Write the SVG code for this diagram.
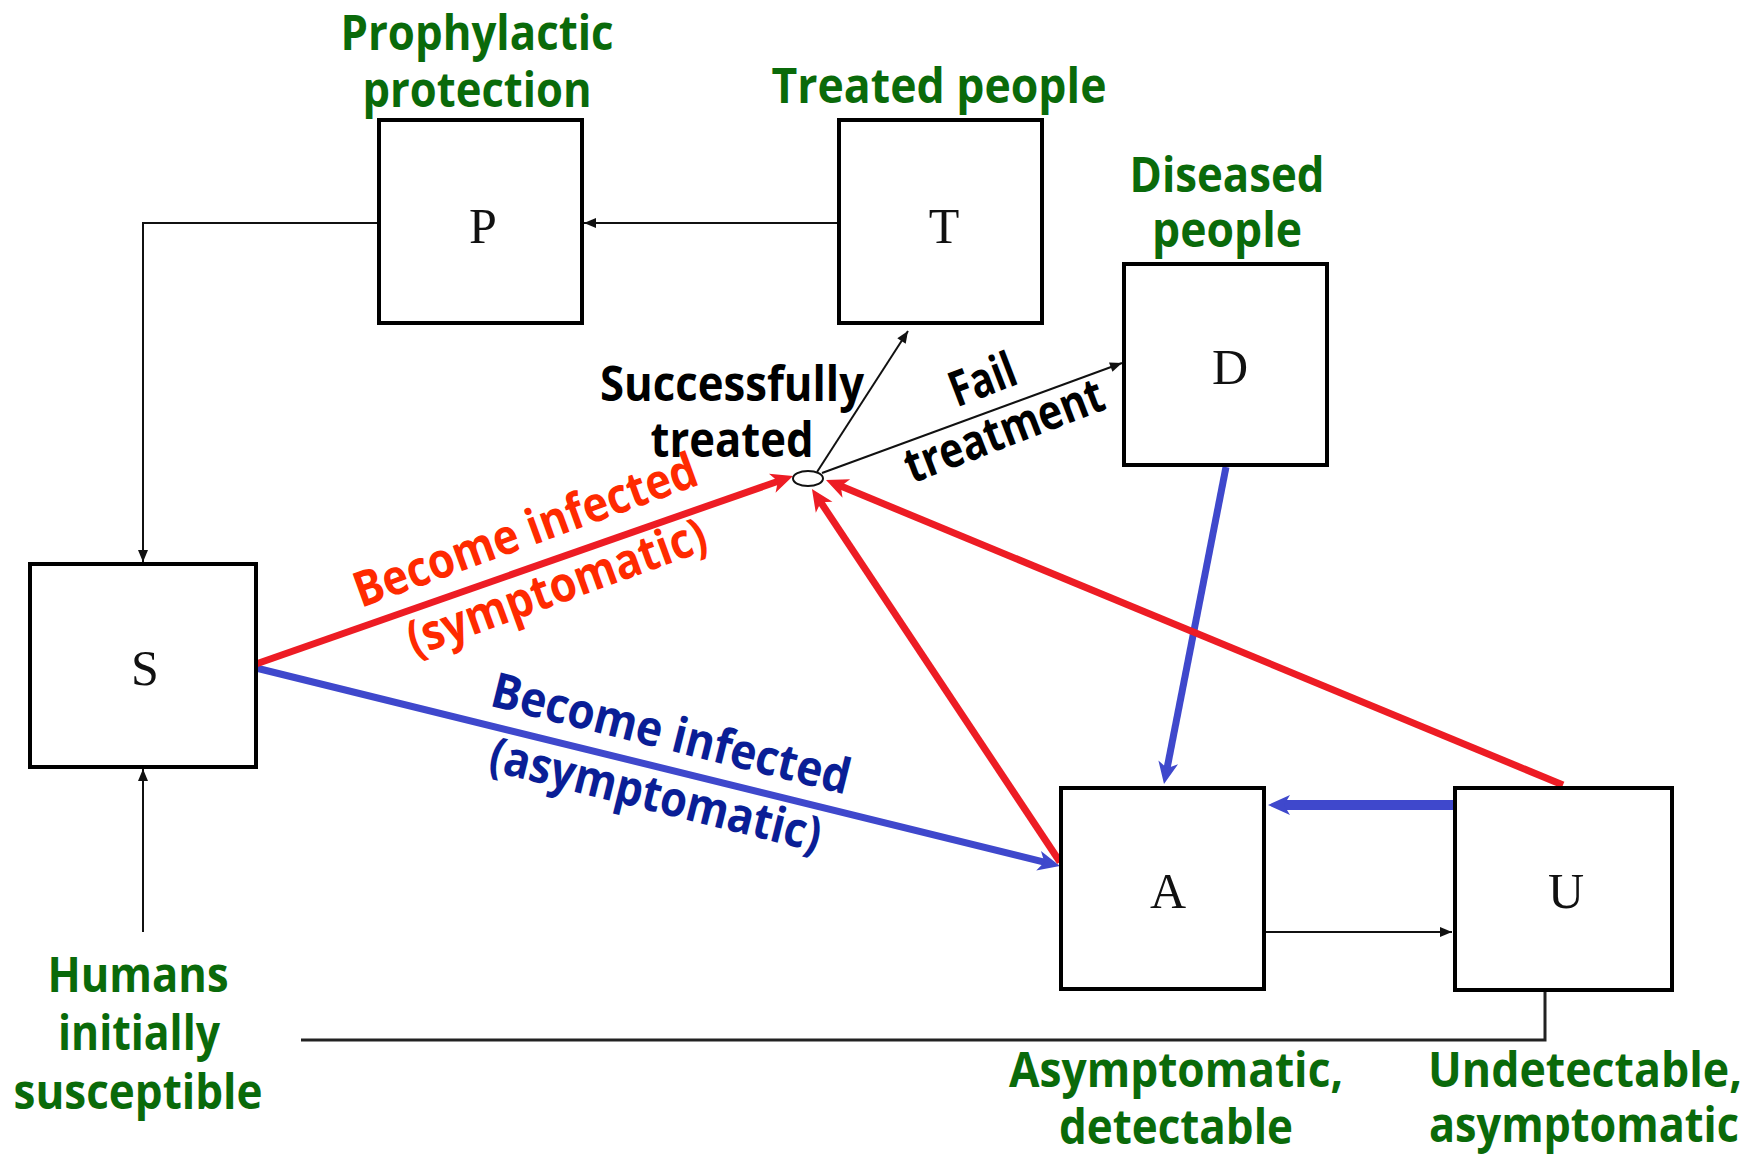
<svg xmlns="http://www.w3.org/2000/svg" width="1748" height="1154" viewBox="0 0 1748 1154">
<style>
.box{fill:#fff;stroke:#000;stroke-width:4}
.let{font-family:"Liberation Serif","Times New Roman",serif;font-size:50px;text-anchor:middle;fill:#111}
.lbl{font-family:"Open Sans",Lato,sans-serif;font-weight:bold;font-size:49px;text-anchor:middle}
.g{fill:#0a6a0a}
.k{fill:#000}
.r{fill:#ff2a00}
.b{fill:#0a1e96}
.thin{fill:none;stroke:#111;stroke-width:2}
.red{fill:none;stroke:#ed1c24;stroke-width:7}
.blue{fill:none;stroke:#3f48cc;stroke-width:7}
</style>
<defs>
<marker id="ak" markerUnits="userSpaceOnUse" markerWidth="30" markerHeight="30" viewBox="-15 -15 30 30" refX="0" refY="0" orient="auto" overflow="visible"><path d="M0,0 L-12,-5 L-12,5 Z" fill="#111"/></marker>
<marker id="ar" markerUnits="userSpaceOnUse" markerWidth="40" markerHeight="40" viewBox="-20 -20 40 40" refX="0" refY="0" orient="auto" overflow="visible"><path d="M12,0 L-10,-10 L-4,0 L-10,10 Z" fill="#ed1c24"/></marker>
<marker id="ab" markerUnits="userSpaceOnUse" markerWidth="40" markerHeight="40" viewBox="-20 -20 40 40" refX="0" refY="0" orient="auto" overflow="visible"><path d="M12,0 L-10,-10 L-4,0 L-10,10 Z" fill="#3f48cc"/></marker>
</defs>
<rect width="1748" height="1154" fill="#fff"/>

<g id="connectors">
<path class="thin" d="M839,223 H584" marker-end="url(#ak)"/>
<path class="thin" d="M379,223 H143 V562" marker-end="url(#ak)"/>
<path class="thin" d="M143,932 V769" marker-end="url(#ak)"/>
<path class="thin" d="M1266,932 H1452" marker-end="url(#ak)"/>
<path d="M1545,990 V1040 H301" fill="none" stroke="#222" stroke-width="3"/>
<path class="thin" d="M817,472 L908,331" marker-end="url(#ak)"/>
<path class="thin" d="M822,473 L1122,363" marker-end="url(#ak)"/>
<path class="blue" d="M256,668 L1048.3,863.1" marker-end="url(#ab)"/>
<path class="blue" d="M1226,467 L1166.3,772.2" marker-end="url(#ab)"/>
<path class="blue" style="stroke-width:10" d="M1454,805 L1280,805" marker-end="url(#ab)"/>
<path class="red" d="M256,664 L781.7,480" marker-end="url(#ar)"/>
<path class="red" d="M1060,862 L818.6,499" marker-end="url(#ar)"/>
<path class="red" d="M1563,785 L837.1,484.6" marker-end="url(#ar)"/>
<ellipse cx="808" cy="478.5" rx="15" ry="7.5" fill="#fff" stroke="#111" stroke-width="2"/>
</g>

<g id="node-P"><rect class="box" x="379" y="120" width="203" height="203"/><text class="let" x="483" y="243">P</text></g>
<g id="node-T"><rect class="box" x="839" y="120" width="203" height="203"/><text class="let" x="944" y="243">T</text></g>
<g id="node-D"><rect class="box" x="1124" y="264" width="203" height="201"/><text class="let" x="1230" y="384">D</text></g>
<g id="node-S"><rect class="box" x="30" y="564" width="226" height="203"/><text class="let" x="145" y="685">S</text></g>
<g id="node-A"><rect class="box" x="1061" y="788" width="203" height="201"/><text class="let" x="1168" y="908">A</text></g>
<g id="node-U"><rect class="box" x="1455" y="788" width="217" height="202"/><text class="let" x="1566" y="908">U</text></g>

<g id="labels">
<text class="lbl g" x="477" y="50" textLength="273" lengthAdjust="spacingAndGlyphs">Prophylactic</text>
<text class="lbl g" x="477" y="107" textLength="229" lengthAdjust="spacingAndGlyphs">protection</text>
<text class="lbl g" x="939" y="103" textLength="335" lengthAdjust="spacingAndGlyphs">Treated people</text>
<text class="lbl g" x="1227" y="192" textLength="195" lengthAdjust="spacingAndGlyphs">Diseased</text>
<text class="lbl g" x="1227" y="247" textLength="150" lengthAdjust="spacingAndGlyphs">people</text>
<text class="lbl k" x="732" y="401" textLength="264" lengthAdjust="spacingAndGlyphs">Successfully</text>
<text class="lbl k" x="732" y="457" textLength="163" lengthAdjust="spacingAndGlyphs">treated</text>
<g transform="translate(1010,446) rotate(-21)">
<text class="lbl k" x="-2" y="-55" textLength="68" lengthAdjust="spacingAndGlyphs">Fail</text>
<text class="lbl k" x="0" y="0" textLength="210" lengthAdjust="spacingAndGlyphs">treatment</text>
</g>
<g transform="translate(531,546) rotate(-20)">
<text class="lbl r" x="0" y="0" textLength="362" lengthAdjust="spacingAndGlyphs">Become infected</text>
<text class="lbl r" x="10" y="64" textLength="315" lengthAdjust="spacingAndGlyphs">(symptomatic)</text>
</g>
<g transform="translate(667,750) rotate(14)">
<text class="lbl b" x="0" y="0" textLength="368" lengthAdjust="spacingAndGlyphs">Become infected</text>
<text class="lbl b" x="0" y="63" textLength="340" lengthAdjust="spacingAndGlyphs">(asymptomatic)</text>
</g>
<text class="lbl g" x="138" y="992" textLength="181" lengthAdjust="spacingAndGlyphs">Humans</text>
<text class="lbl g" x="139" y="1050" textLength="162" lengthAdjust="spacingAndGlyphs">initially</text>
<text class="lbl g" x="138" y="1109" textLength="249" lengthAdjust="spacingAndGlyphs">susceptible</text>
<text class="lbl g" x="1176" y="1087" textLength="334" lengthAdjust="spacingAndGlyphs">Asymptomatic,</text>
<text class="lbl g" x="1176" y="1144" textLength="234" lengthAdjust="spacingAndGlyphs">detectable</text>
<text class="lbl g" x="1585" y="1087" textLength="314" lengthAdjust="spacingAndGlyphs">Undetectable,</text>
<text class="lbl g" x="1584" y="1142" textLength="310" lengthAdjust="spacingAndGlyphs">asymptomatic</text>
</g>
</svg>
